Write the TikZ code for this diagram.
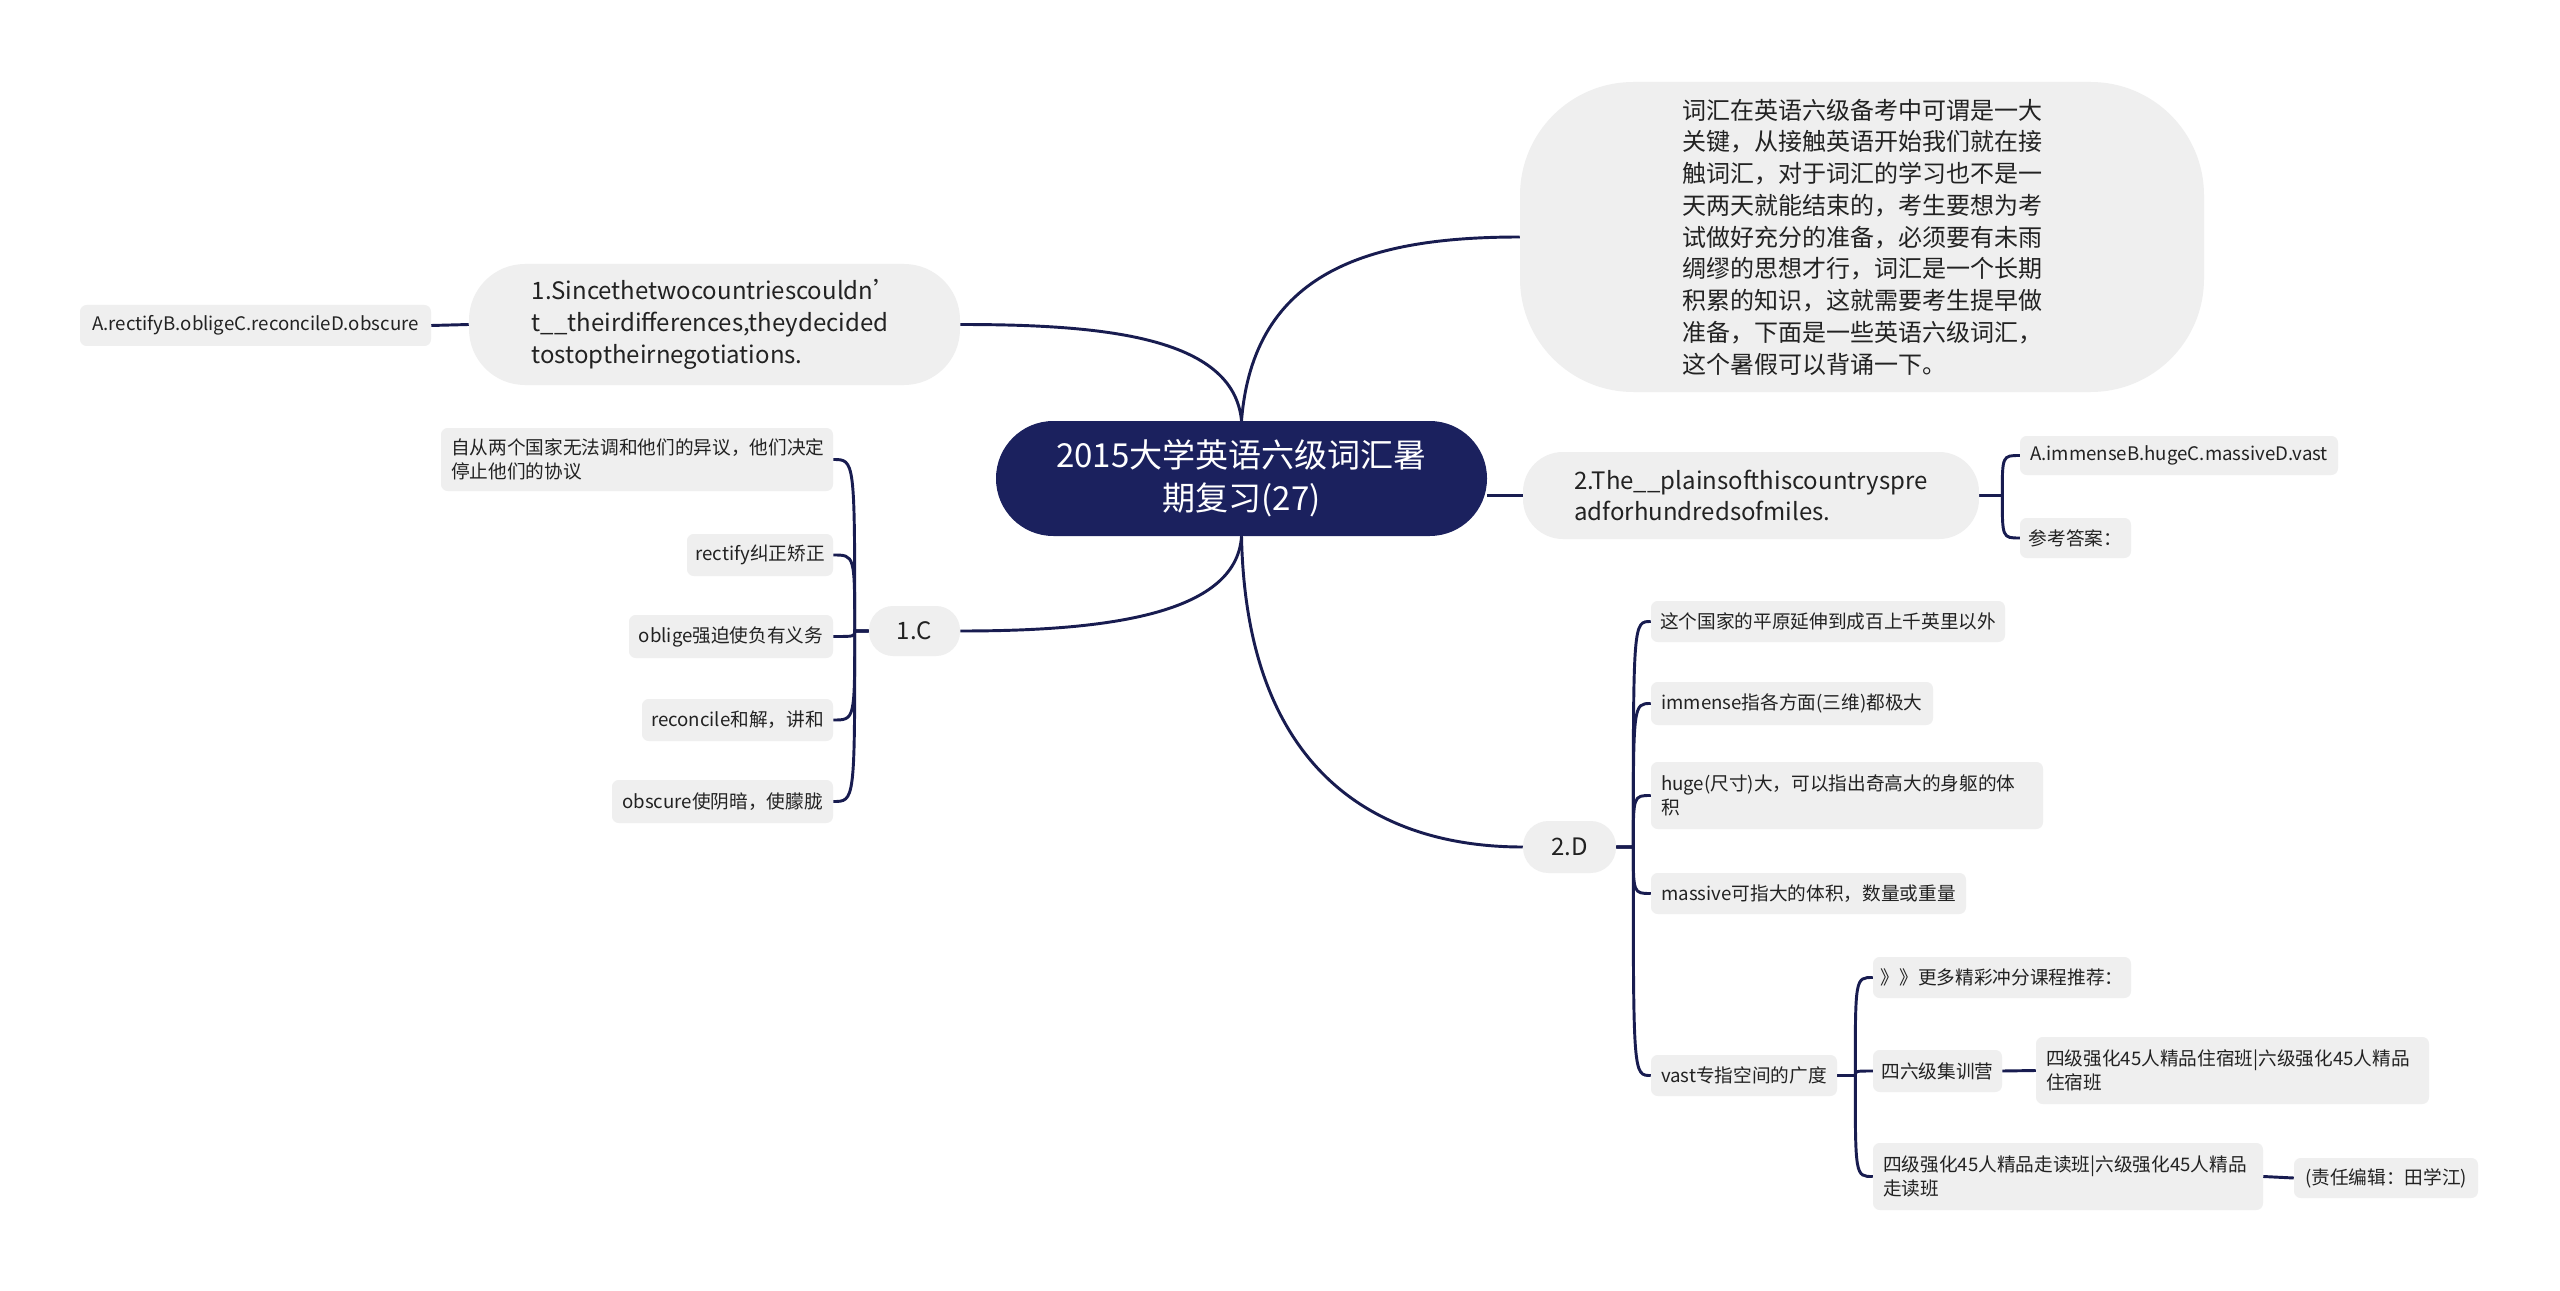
\documentclass[tikz,border=0pt]{standalone}
\usepackage{fontspec}
\setmainfont{Noto Sans CJK SC}
\usetikzlibrary{calc}
\definecolor{navy}{RGB}{27,33,94}
\definecolor{linec}{RGB}{24,28,80}
\definecolor{boxg}{RGB}{239,239,239}
\definecolor{txt}{RGB}{34,34,34}
\tikzset{
  sz/.style 2 args={minimum width=#1*0.75pt, minimum height=#2*0.75pt},
  tw/.style={text width=#1*0.75pt, align=left},
  base/.style={inner sep=0pt, text=txt},
  leaf/.style={base, fill=boxg, rounded corners=5pt, font=\fontsize{14}{18.4}\selectfont},
  big/.style={base, fill=boxg, font=\fontsize{18}{23.8}\selectfont},
  rootbox/.style={inner sep=0pt, fill=navy, text=white, rounded corners=43pt, font=\fontsize{24.8}{32}\selectfont, align=center},
  conn/.style={draw=linec, line width=2.2pt},
}
\begin{document}
\begin{tikzpicture}[x=0.75pt,y=-0.75pt]
\fill[white] (0,0) rectangle (2560,1291);
\useasboundingbox (0,0) rectangle (2560,1291);

% nodes
\node[rootbox, sz={491}{115}] (root) at (1241.5,478.5) {2015大学英语六级词汇暑\\期复习(27)};
\node[big, sz={684}{310}, rounded corners=85pt, align=left] (intro) at (1862,237) {词汇在英语六级备考中可谓是一大\\关键，从接触英语开始我们就在接\\触词汇，对于词汇的学习也不是一\\天两天就能结束的，考生要想为考\\试做好充分的准备，必须要有未雨\\绸缪的思想才行，词汇是一个长期\\积累的知识，这就需要考生提早做\\准备，下面是一些英语六级词汇，\\这个暑假可以背诵一下。};
\node[big, sz={491}{121}, rounded corners=42pt, align=left] (q1) at (714.5,324.5) {1.Sincethetwocountriescouldn’\\t\_\_theirdifferences,theydecided\\tostoptheirnegotiations.};
\node[leaf, sz={351}{41}] (q1a) at (255.5,325.5) {A.rectifyB.obligeC.reconcileD.obscure};
\node[big, sz={456}{87}, rounded corners=30pt, align=left] (q2) at (1751,495.5) {2.The\_\_plainsofthiscountryspre\\adforhundredsofmiles.};
\node[leaf, sz={318}{39}] (q2a) at (2179,455.5) {A.immenseB.hugeC.massiveD.vast};
\node[leaf, sz={111}{40}] (q2b) at (2075.5,538) {参考答案：};

\node[big, sz={91}{50}, rounded corners=18pt] (c1) at (914.5,631) {1.C};
\node[leaf, sz={392}{63}, tw=372] (c1a) at (637,459.5) {自从两个国家无法调和他们的异议，他们决定\\停止他们的协议};
\node[leaf, sz={146}{42}] (c1b) at (760,555) {rectify纠正矫正};
\node[leaf, sz={204}{43}] (c1c) at (731,636.5) {oblige强迫使负有义务};
\node[leaf, sz={191}{42}] (c1d) at (737.5,720) {reconcile和解，讲和};
\node[leaf, sz={221}{43}] (c1e) at (722.5,801.5) {obscure使阴暗，使朦胧};

\node[big, sz={93}{52}, rounded corners=19pt] (d2) at (1569.5,847) {2.D};
\node[leaf, sz={354}{41}] (d2a) at (1828,621.5) {这个国家的平原延伸到成百上千英里以外};
\node[leaf, sz={282}{43}] (d2b) at (1792,703.5) {immense指各方面(三维)都极大};
\node[leaf, sz={392}{67}, tw=372] (d2c) at (1847,795.5) {huge(尺寸)大，可以指出奇高大的身躯的体\\积};
\node[leaf, sz={315}{41}] (d2d) at (1808.5,893.5) {massive可指大的体积，数量或重量};
\node[leaf, sz={186}{41}] (vast) at (1744,1075.5) {vast专指空间的广度};

\node[leaf, sz={258}{41}] (v1) at (2002,977.5) {》》更多精彩冲分课程推荐：};
\node[leaf, sz={129}{42}] (v2) at (1937.5,1071) {四六级集训营};
\node[leaf, sz={390}{67}, tw=370] (v3) at (2068,1176.5) {四级强化45人精品走读班|六级强化45人精品\\走读班};
\node[leaf, sz={393}{67}, tw=373] (v2a) at (2232.5,1070.5) {四级强化45人精品住宿班|六级强化45人精品\\住宿班};
\node[leaf, sz={184}{40}] (v3a) at (2386,1178) {(责任编辑：田学江)};

% main connectors
\draw[conn] (root.north) .. controls +(-8,-85) and +(140,0) .. (q1.east);
\draw[conn] (root.north) .. controls +(12,-150) and +(-150,0) .. (intro.west);
\draw[conn] (root.south) .. controls +(-5,80) and +(140,0) .. (c1.east);
\draw[conn] (root.south) .. controls +(5,250) and +(-130,0) .. (d2.west);
\draw[conn] (root.east |- q2.west) -- (q2.west);
\draw[conn] (q1.west) -- (q1a.east);

% branch connectors
\coordinate (tq) at ($(q2.east)+(23,0)$);
\foreach \c in {q2a,q2b}
  \draw[conn] (q2.east) -- (tq) .. controls (tq |- \c.west) and (tq |- \c.west) .. (\c.west);
\coordinate (tc) at ($(c1.west)+(-14,0)$);
\foreach \c in {c1a,c1b,c1c,c1d,c1e}
  \draw[conn] (c1.west) -- (tc) .. controls (tc |- \c.east) and (tc |- \c.east) .. (\c.east);
\coordinate (td) at ($(d2.east)+(17,0)$);
\foreach \c in {d2a,d2b,d2c,d2d,vast}
  \draw[conn] (d2.east) -- (td) .. controls (td |- \c.west) and (td |- \c.west) .. (\c.west);
\coordinate (tv) at ($(vast.east)+(18,0)$);
\foreach \c in {v1,v2,v3}
  \draw[conn] (vast.east) -- (tv) .. controls (tv |- \c.west) and (tv |- \c.west) .. (\c.west);
\draw[conn] (v2.east) -- (v2a.west);
\draw[conn] (v3.east) -- (v3a.west);
\end{tikzpicture}
\end{document}
